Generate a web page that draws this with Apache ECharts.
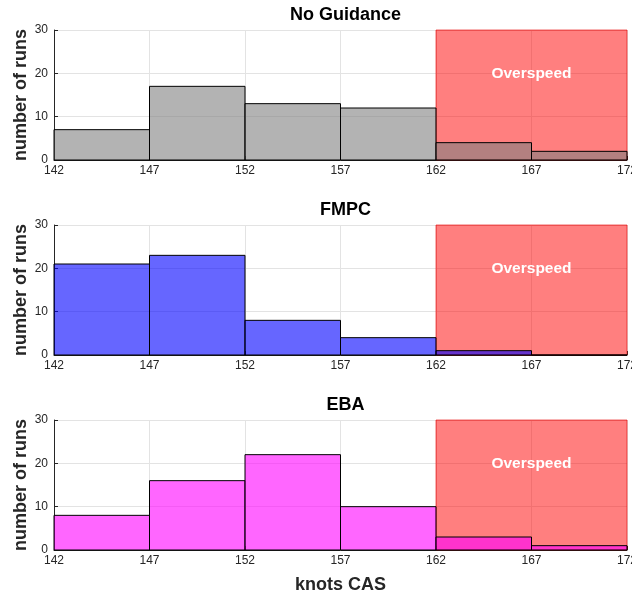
<!DOCTYPE html>
<html>
<head>
<meta charset="utf-8">
<script src="https://cdn.jsdelivr.net/npm/echarts@6/dist/echarts.min.js"></script>
<style>
  html, body { margin: 0; padding: 0; background: #fff; }
  #chart { width: 632px; height: 596px; }
</style>
</head>
<body>
<div id="chart"></div>
<script>
// Histogram bin edges (knots CAS) and counts per guidance mode
const binEdges = [142, 147, 152, 157, 162, 167, 172];
const tickLabels = ['142', '147', '152', '157', '162', '167', '172'];
const panelTitles = ['No Guidance', 'FMPC', 'EBA'];
const noGuidanceCounts = [7, 17, 13, 12, 4, 2];
const fmpcCounts = [21, 23, 8, 4, 1, 0];
const ebaCounts = [8, 16, 22, 10, 3, 1];
const yTicks = [0, 10, 20, 30];
// Overspeed region: speed range and label
const overspeedRange = [162, 172];
const overspeedLabel = 'Overspeed';
const overspeedLabelLevel = 20;

const countsByPanel = [noGuidanceCounts, fmpcCounts, ebaCounts];
const barColors = ['rgba(128,128,128,0.6)', 'rgba(0,0,255,0.6)', 'rgba(255,0,255,0.6)'];

// x axis runs in offsets from the first bin edge so ticks start at it
const base = binEdges[0];
const span = binEdges[binEdges.length - 1] - base;
const step = binEdges[1] - binEdges[0];
const yMax = yTicks[yTicks.length - 1];

const gridTops = [30, 225, 420];
const plotLeft = 54, plotRight = 5, plotHeight = 130;
const font = 'Liberation Sans, Arial, Helvetica, sans-serif';
const textColor = '#262626';

const grids = [], xAxes = [], yAxes = [], series = [], titles = [];

gridTops.forEach((top, i) => {
  grids.push({
    left: plotLeft, right: plotRight, top: top, height: plotHeight,
    containLabel: false, outerBoundsMode: 'none'
  });
  titles.push({
    text: panelTitles[i],
    left: plotLeft + (632 - plotLeft - plotRight) / 2,
    textAlign: 'center',
    top: top - 29,
    textStyle: { fontFamily: font, fontSize: 18, fontWeight: 'bold', color: '#000' }
  });
  xAxes.push({
    type: 'value', gridIndex: i, min: 0, max: span, interval: step,
    name: i === 2 ? 'knots CAS' : '',
    nameLocation: 'middle', nameGap: 26,
    nameTextStyle: { fontFamily: font, fontSize: 18, fontWeight: 'bold', color: textColor },
    axisLine: { show: true, onZero: false, lineStyle: { color: '#262626', width: 1 } },
    axisTick: { show: true, inside: true, length: 4, lineStyle: { color: '#262626' } },
    axisLabel: {
      fontFamily: font, fontSize: 12, color: textColor, margin: 5,
      formatter: v => tickLabels[Math.round(v / step)]
    },
    splitLine: { show: true, lineStyle: { color: '#e3e3e3', width: 1 } }
  });
  yAxes.push({
    type: 'value', gridIndex: i, min: 0, max: yMax, interval: yTicks[1] - yTicks[0],
    name: 'number of runs', nameLocation: 'middle', nameGap: 24, nameMoveOverlap: false,
    nameTextStyle: { fontFamily: font, fontSize: 18, fontWeight: 'bold', color: textColor },
    axisLine: { show: true, lineStyle: { color: '#262626', width: 1 } },
    axisTick: { show: true, inside: true, length: 4, lineStyle: { color: '#262626' } },
    axisLabel: { fontFamily: font, fontSize: 12, color: textColor, margin: 6 },
    splitLine: { show: true, lineStyle: { color: '#e3e3e3', width: 1 } }
  });

  // Overspeed shaded band
  series.push({
    type: 'custom', xAxisIndex: i, yAxisIndex: i, z: 2, silent: true,
    data: [[overspeedRange[0] - base, overspeedRange[1] - base, yMax]],
    renderItem: (params, api) => {
      const p0 = api.coord([api.value(0), api.value(2)]);
      const p1 = api.coord([api.value(1), 0]);
      const labelPt = api.coord([(api.value(0) + api.value(1)) / 2, overspeedLabelLevel]);
      return {
        type: 'group',
        children: [
          {
            type: 'rect',
            shape: { x: p0[0], y: p0[1], width: p1[0] - p0[0], height: p1[1] - p0[1] },
            style: { fill: 'rgba(255,0,0,0.5)', stroke: 'rgba(230,0,0,0.6)', lineWidth: 1 }
          },
          {
            type: 'text',
            x: labelPt[0], y: labelPt[1],
            style: {
              text: overspeedLabel, fill: '#fff', align: 'center', verticalAlign: 'middle',
              font: 'bold 15.5px ' + font
            }
          }
        ]
      };
    }
  });

  // Histogram bars
  const counts = countsByPanel[i];
  series.push({
    type: 'custom', xAxisIndex: i, yAxisIndex: i, z: 3, silent: true,
    data: counts.map((c, k) => [binEdges[k] - base, binEdges[k + 1] - base, c]),
    renderItem: (params, api) => {
      const p0 = api.coord([api.value(0), api.value(2)]);
      const p1 = api.coord([api.value(1), 0]);
      return {
        type: 'rect',
        shape: { x: p0[0], y: p0[1], width: p1[0] - p0[0], height: p1[1] - p0[1] },
        style: { fill: barColors[i], stroke: '#000', lineWidth: 1 }
      };
    }
  });
});

const chart = echarts.init(document.getElementById('chart'), null, { renderer: 'canvas' });
chart.setOption({
  animation: false,
  backgroundColor: '#fff',
  title: titles,
  grid: grids,
  xAxis: xAxes,
  yAxis: yAxes,
  series: series
});
</script>
</body>
</html>
